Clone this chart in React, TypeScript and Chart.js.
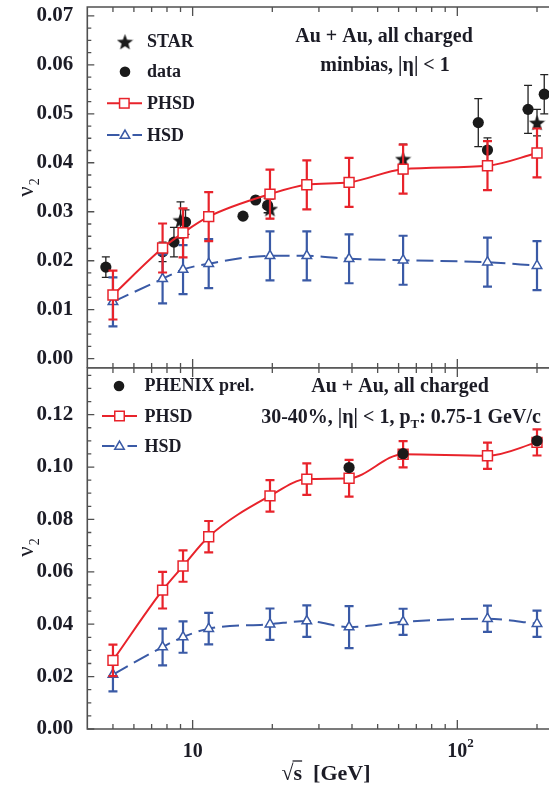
import React, { useEffect, useRef } from 'react';
import { Chart, registerables } from 'chart.js';

Chart.register(...registerables);

// ---------- colours / fonts ----------
const RED = '#e8232b';
const BLUE = '#3a5aa6';
const BLACK = '#1a1a1a';
const AXIS = '#505050';
const TEXT = '#1c1c26';
const SERIF = '"Liberation Serif", "DejaVu Serif", serif';

// ---------- data ----------
const modelEnergy = [5, 7.7, 9.2, 11.5, 19.6, 27, 39, 62.4, 130, 200];

// top panel (minbias)
const phsdMinbias = [0.013, 0.0226, 0.0257, 0.029, 0.0336, 0.0355, 0.036, 0.0387, 0.0394, 0.042];
const phsdMinbiasErr = [0.005, 0.005, 0.005, 0.005, 0.005, 0.005, 0.005, 0.005, 0.005, 0.005];
const hsdMinbias = [0.0116, 0.0163, 0.0182, 0.0194, 0.021, 0.021, 0.0204, 0.0201, 0.0197, 0.019];
const hsdMinbiasErr = [0.005, 0.005, 0.005, 0.005, 0.005, 0.005, 0.005, 0.005, 0.005, 0.005];

const starEnergy = [9.0, 19.6, 62.4, 200];
const starV2 = [0.0283, 0.0306, 0.0408, 0.0482];
const starErr = [0.0037, 0.002, 0.003, 0.0027];

const dataEnergy = [4.7, 7.7, 8.5, 9.4, 15.5, 17.3, 19.2, 120, 130, 185, 213];
const dataV2 = [0.0187, 0.0218, 0.0238, 0.0279, 0.0291, 0.0324, 0.0313, 0.0482, 0.0426, 0.0509, 0.054];
const dataErr = [0.0021, 0.002, 0.003, 0.0025, 0, 0, 0.0015, 0.0049, 0.0025, 0.0049, 0.004];

// bottom panel (30-40%)
const phsdCentral = [0.0262, 0.053, 0.0622, 0.0734, 0.089, 0.0954, 0.0957, 0.1049, 0.1043, 0.1094];
const phsdCentralErr = [0.006, 0.007, 0.006, 0.006, 0.006, 0.006, 0.007, 0.005, 0.005, 0.005];
const hsdCentral = [0.0208, 0.0313, 0.0351, 0.0383, 0.04, 0.0412, 0.0389, 0.0409, 0.0421, 0.0402];
const hsdCentralErr = [0.0064, 0.007, 0.006, 0.006, 0.006, 0.006, 0.008, 0.005, 0.005, 0.005];

const phenixEnergy = [39, 62.4, 200];
const phenixV2 = [0.0998, 0.1051, 0.11];

// ---------- axes ----------
const xMin = 4;
const xMax = 222;
const xMajorTicks = [10, 100];
const xMinorTicks = [5, 6, 7, 8, 9, 20, 30, 40, 50, 60, 70, 80, 90, 200];
const xTickLabels = ['10', '10'];
const xTickSup = ['', '2'];

const yTopMin = -0.0019;
const yTopMax = 0.0718;
const yTopTicks = [0, 0.01, 0.02, 0.03, 0.04, 0.05, 0.06, 0.07];
const yTopMinorStep = 0.0025;

const yBotMin = 0;
const yBotMax = 0.1378;
const yBotTicks = [0, 0.02, 0.04, 0.06, 0.08, 0.1, 0.12];
const yBotMinorStep = 0.005;

const pts = (xs: number[], ys: number[]) => xs.map((x, i) => ({ x, y: ys[i] }));

// ---------- drawing helpers ----------
function starPath(ctx: CanvasRenderingContext2D, cx: number, cy: number, R: number) {
  const r = R * 0.42;
  ctx.beginPath();
  for (let k = 0; k < 10; k++) {
    const ang = -Math.PI / 2 + (k * Math.PI) / 5;
    const rad = k % 2 ? r : R;
    const px = cx + Math.cos(ang) * rad;
    const py = cy + Math.sin(ang) * rad;
    if (k === 0) ctx.moveTo(px, py);
    else ctx.lineTo(px, py);
  }
  ctx.closePath();
}

function makeStarCanvas(size: number, color: string) {
  const c = document.createElement('canvas');
  c.width = size;
  c.height = size;
  const g = c.getContext('2d')!;
  g.fillStyle = color;
  starPath(g, size / 2, size / 2 + size * 0.05, size / 2);
  g.fill();
  return c;
}

function drawSquare(ctx: CanvasRenderingContext2D, x: number, y: number, side: number, color: string) {
  ctx.fillStyle = '#fff';
  ctx.fillRect(x - side / 2, y - side / 2, side, side);
  ctx.strokeStyle = color;
  ctx.lineWidth = 1.5;
  ctx.strokeRect(x - side / 2, y - side / 2, side, side);
}

function drawTriangle(ctx: CanvasRenderingContext2D, x: number, y: number, r: number, color: string) {
  ctx.beginPath();
  for (let k = 0; k < 3; k++) {
    const a = (k * 2 * Math.PI) / 3;
    const px = x + Math.sin(a) * r;
    const py = y - Math.cos(a) * r;
    if (k === 0) ctx.moveTo(px, py);
    else ctx.lineTo(px, py);
  }
  ctx.closePath();
  ctx.fillStyle = '#fff';
  ctx.fill();
  ctx.strokeStyle = color;
  ctx.lineWidth = 1.5;
  ctx.stroke();
}

function drawDot(ctx: CanvasRenderingContext2D, x: number, y: number, r: number) {
  ctx.beginPath();
  ctx.arc(x, y, r, 0, Math.PI * 2);
  ctx.fillStyle = BLACK;
  ctx.fill();
}

function font(size: number, weight = 'bold') {
  return `${weight} ${size}px ${SERIF}`;
}

function drawLegendLine(ctx: CanvasRenderingContext2D, y: number, x0: number, x1: number, color: string, dashed: boolean) {
  ctx.strokeStyle = color;
  ctx.lineWidth = 2;
  ctx.setLineDash([]);
  ctx.beginPath();
  if (dashed) {
    const mid = (x0 + x1) / 2;
    ctx.moveTo(x0, y);
    ctx.lineTo(mid - 5, y);
    ctx.moveTo(mid + 8, y);
    ctx.lineTo(x1, y);
  } else {
    ctx.moveTo(x0, y);
    ctx.lineTo(x1, y);
  }
  ctx.stroke();
}

function drawYTitle(ctx: CanvasRenderingContext2D, x: number, y: number) {
  ctx.save();
  ctx.translate(x, y);
  ctx.rotate(-Math.PI / 2);
  ctx.fillStyle = TEXT;
  ctx.textBaseline = 'middle';
  ctx.textAlign = 'left';
  ctx.font = font(23, 'normal');
  const wNu = ctx.measureText('ν').width;
  ctx.font = font(14, 'normal');
  const wSub = ctx.measureText('2').width;
  const start = -(wNu + wSub) / 2;
  ctx.font = font(23, 'normal');
  ctx.fillText('ν', start, 0);
  ctx.font = font(14, 'normal');
  ctx.fillText('2', start + wNu + 1, 8);
  ctx.restore();
}

// ---------- plugins ----------
const errorBarPlugin = {
  id: 'errorBars',
  beforeDatasetDraw(chart: any, args: any) {
    const ds: any = chart.data.datasets[args.index];
    const errs: number[] | undefined = ds.errors;
    if (!errs) return;
    const meta = args.meta;
    const ys = chart.scales[meta.yAxisID];
    const ctx: CanvasRenderingContext2D = chart.ctx;
    ctx.save();
    ctx.strokeStyle = ds.errorColor;
    ctx.lineWidth = ds.errorWidth;
    ctx.setLineDash([]);
    const cap = ds.capWidth / 2;
    meta.data.forEach((pt: any, i: number) => {
      const e = errs[i];
      if (!e) return;
      const v = ds.data[i].y;
      const top = ys.getPixelForValue(v + e);
      const bot = ys.getPixelForValue(v - e);
      ctx.beginPath();
      ctx.moveTo(pt.x, top);
      ctx.lineTo(pt.x, bot);
      ctx.moveTo(pt.x - cap, top);
      ctx.lineTo(pt.x + cap, top);
      ctx.moveTo(pt.x - cap, bot);
      ctx.lineTo(pt.x + cap, bot);
      ctx.stroke();
    });
    ctx.restore();
  },
};

const framePlugin = {
  id: 'frame',
  afterDraw(chart: any, _args: any, opts: any) {
    const ctx: CanvasRenderingContext2D = chart.ctx;
    const a = chart.chartArea;
    const xs = chart.scales.x;
    const ys = chart.scales.y;
    ctx.save();
    ctx.setLineDash([]);
    ctx.strokeStyle = AXIS;
    ctx.lineWidth = 1.6;
    ctx.beginPath();
    ctx.moveTo(a.right + 2, a.top);
    ctx.lineTo(a.left, a.top);
    ctx.lineTo(a.left, a.bottom);
    ctx.lineTo(a.right + 2, a.bottom);
    ctx.stroke();

    ctx.lineWidth = 1.3;
    ctx.beginPath();
    const xTick = (v: number, len: number) => {
      const px = xs.getPixelForValue(v);
      ctx.moveTo(px, a.bottom);
      ctx.lineTo(px, a.bottom - len);
      ctx.moveTo(px, a.top);
      ctx.lineTo(px, a.top + len);
    };
    xMajorTicks.forEach((v) => xTick(v, 9));
    xMinorTicks.forEach((v) => xTick(v, 5));
    const yMin = ys.min;
    const yMax = ys.max;
    opts.yMajor.forEach((v: number) => {
      const py = ys.getPixelForValue(v);
      ctx.moveTo(a.left, py);
      ctx.lineTo(a.left + 7, py);
    });
    for (let v = 0; v <= yMax + 1e-9; v += opts.yMinorStep) {
      if (v < yMin) continue;
      const py = ys.getPixelForValue(v);
      ctx.moveTo(a.left, py);
      ctx.lineTo(a.left + 4, py);
    }
    ctx.stroke();
    ctx.restore();

    if (opts.draw) opts.draw(ctx, chart);
  },
};

function drawTopDecor(ctx: CanvasRenderingContext2D, star: HTMLCanvasElement) {
  ctx.save();
  ctx.fillStyle = TEXT;
  ctx.textBaseline = 'middle';
  // legend
  ctx.drawImage(star, 125 - star.width / 2, 41.7 - star.height / 2);
  drawDot(ctx, 125, 71.7, 5.3);
  drawLegendLine(ctx, 103.3, 107, 142, RED, false);
  drawSquare(ctx, 124.3, 103.3, 9.5, RED);
  drawLegendLine(ctx, 135, 107, 142, BLUE, true);
  drawTriangle(ctx, 125, 135.5, 5.5, BLUE);
  ctx.fillStyle = TEXT;
  ctx.font = font(18);
  ctx.textAlign = 'left';
  ctx.fillText('STAR', 147, 42);
  ctx.fillText('data', 147, 72);
  ctx.fillText('PHSD', 147, 104);
  ctx.fillText('HSD', 147, 136);
  // annotation
  ctx.font = font(20);
  ctx.textAlign = 'center';
  ctx.fillText('Au + Au, all charged', 384, 37);
  ctx.fillText('minbias, |η| < 1', 385, 66);
  drawYTitle(ctx, 27, 188);
  ctx.restore();
}

function drawBottomDecor(ctx: CanvasRenderingContext2D, chart: any) {
  const off = 367;
  ctx.save();
  ctx.textBaseline = 'middle';
  // legend
  drawDot(ctx, 119, 386 - off, 5.3);
  drawLegendLine(ctx, 416 - off, 102, 137, RED, false);
  drawSquare(ctx, 119.5, 416 - off, 9.5, RED);
  drawLegendLine(ctx, 446 - off, 102, 137, BLUE, true);
  drawTriangle(ctx, 119.5, 446.5 - off, 5.5, BLUE);
  ctx.fillStyle = TEXT;
  ctx.font = font(18);
  ctx.textAlign = 'left';
  ctx.fillText('PHENIX prel.', 144.6, 386 - off);
  ctx.fillText('PHSD', 144.6, 417 - off);
  ctx.fillText('HSD', 144.6, 447 - off);
  // annotation
  ctx.font = font(20);
  ctx.textAlign = 'center';
  ctx.fillText('Au + Au, all charged', 400, 387 - off);
  const p1 = '30-40%, |η| < 1, p';
  const p2 = ': 0.75-1 GeV/c';
  ctx.font = font(20);
  const w1 = ctx.measureText(p1).width;
  const w2 = ctx.measureText(p2).width;
  ctx.font = font(13);
  const ws = ctx.measureText('T').width;
  let sx = 401 - (w1 + ws + w2) / 2;
  const ty = 418 - off;
  ctx.textAlign = 'left';
  ctx.font = font(20);
  ctx.fillText(p1, sx, ty);
  sx += w1;
  ctx.font = font(13);
  ctx.fillText('T', sx, ty + 7);
  sx += ws;
  ctx.font = font(20);
  ctx.fillText(p2, sx, ty);

  // x tick labels
  const xs = chart.scales.x;
  const ly = 752 - off;
  xMajorTicks.forEach((v, i) => {
    const px = xs.getPixelForValue(v);
    ctx.font = font(20);
    ctx.textAlign = 'center';
    ctx.fillText(xTickLabels[i], px, ly);
    if (xTickSup[i]) {
      const w = ctx.measureText(xTickLabels[i]).width;
      ctx.font = font(13);
      ctx.textAlign = 'left';
      ctx.fillText(xTickSup[i], px + w / 2, ly - 8);
    }
  });

  // x title  √s  [GeV]
  ctx.font = font(22);
  ctx.textBaseline = 'alphabetic';
  const wr = ctx.measureText('√').width;
  const wsx = ctx.measureText('s').width;
  const wg = ctx.measureText('  [GeV]').width;
  let tx = 326 - (wr + wsx + wg) / 2;
  const by = 780 - off;
  ctx.textAlign = 'left';
  ctx.fillText('√', tx, by);
  ctx.strokeStyle = TEXT;
  ctx.lineWidth = 1.3;
  ctx.beginPath();
  ctx.moveTo(tx + wr - 1, by - 19);
  ctx.lineTo(tx + wr + wsx, by - 19);
  ctx.stroke();
  tx += wr;
  ctx.fillText('s', tx, by);
  tx += wsx;
  ctx.fillText('  [GeV]', tx, by);

  drawYTitle(ctx, 27, 548 - off);
  ctx.restore();
}

function yScale(min: number, max: number, ticks: number[]) {
  return {
    type: 'linear' as const,
    min,
    max,
    grid: { display: false },
    border: { display: false },
    afterBuildTicks: (s: any) => {
      s.ticks = ticks.map((v) => ({ value: v }));
    },
    afterFit: (s: any) => {
      s.width = 87.3;
      s.paddingTop = 0;
      s.paddingBottom = 0;
      s.paddingLeft = 0;
      s.paddingRight = 0;
    },
    ticks: {
      autoSkip: false,
      padding: 6,
      color: TEXT,
      font: { family: SERIF, weight: 'bold' as const, size: 21 },
      callback: (v: any) => Number(v).toFixed(2),
    },
  };
}

const xScale = {
  type: 'logarithmic' as const,
  min: xMin,
  max: xMax,
  display: false,
};

function modelDataset(label: string, xs: number[], ys: number[], errs: number[], color: string, dashed: boolean) {
  return {
    label,
    data: pts(xs, ys),
    errors: errs,
    errorColor: color,
    errorWidth: 2.2,
    capWidth: 9,
    borderColor: color,
    borderWidth: 2,
    borderDash: dashed ? [17, 7] : [],
    cubicInterpolationMode: 'monotone',
    pointStyle: dashed ? 'triangle' : 'rect',
    pointRadius: dashed ? 5.5 : 7,
    pointBackgroundColor: '#fff',
    pointBorderColor: color,
    pointBorderWidth: 1.5,
    fill: false,
  };
}

export default function App() {
  const topRef = useRef<HTMLCanvasElement>(null);
  const botRef = useRef<HTMLCanvasElement>(null);

  useEffect(() => {
    const star = makeStarCanvas(17, BLACK);
    const common = {
      responsive: false,
      animation: false as const,
      devicePixelRatio: 1,
      events: [],
    };

    const top = new Chart(topRef.current!, {
      type: 'line',
      data: {
        datasets: [
          modelDataset('PHSD', modelEnergy, phsdMinbias, phsdMinbiasErr, RED, false),
          modelDataset('HSD', modelEnergy, hsdMinbias, hsdMinbiasErr, BLUE, true),
          {
            label: 'STAR',
            data: pts(starEnergy, starV2),
            errors: starErr,
            errorColor: '#222',
            errorWidth: 1.3,
            capWidth: 8,
            showLine: false,
            pointStyle: star,
            pointRadius: 8,
          },
          {
            label: 'data',
            data: pts(dataEnergy, dataV2),
            errors: dataErr,
            errorColor: '#222',
            errorWidth: 1.3,
            capWidth: 8,
            showLine: false,
            pointStyle: 'circle',
            pointRadius: 5.6,
            pointBackgroundColor: BLACK,
            pointBorderColor: BLACK,
            pointBorderWidth: 0,
          },
        ] as any,
      },
      options: {
        ...common,
        layout: { autoPadding: false, padding: { top: 7, left: 0, right: 0, bottom: 0 } },
        scales: { x: xScale, y: yScale(yTopMin, yTopMax, yTopTicks) } as any,
        plugins: {
          legend: { display: false },
          tooltip: { enabled: false },
          frame: {
            yMajor: yTopTicks,
            yMinorStep: yTopMinorStep,
            draw: (ctx: CanvasRenderingContext2D) => drawTopDecor(ctx, star),
          },
        } as any,
      },
      plugins: [errorBarPlugin, framePlugin],
    });

    const bottom = new Chart(botRef.current!, {
      type: 'line',
      data: {
        datasets: [
          {
            label: 'PHENIX prel.',
            data: pts(phenixEnergy, phenixV2),
            showLine: false,
            pointStyle: 'circle',
            pointRadius: 5.6,
            pointBackgroundColor: BLACK,
            pointBorderColor: BLACK,
            pointBorderWidth: 0,
          },
          modelDataset('PHSD', modelEnergy, phsdCentral, phsdCentralErr, RED, false),
          modelDataset('HSD', modelEnergy, hsdCentral, hsdCentralErr, BLUE, true),
        ] as any,
      },
      options: {
        ...common,
        layout: { autoPadding: false, padding: { top: 1, left: 0, right: 0, bottom: 58 } },
        scales: { x: xScale, y: yScale(yBotMin, yBotMax, yBotTicks) } as any,
        plugins: {
          legend: { display: false },
          tooltip: { enabled: false },
          frame: {
            yMajor: yBotTicks,
            yMinorStep: yBotMinorStep,
            draw: (ctx: CanvasRenderingContext2D, chart: any) => drawBottomDecor(ctx, chart),
          },
        } as any,
      },
      plugins: [errorBarPlugin, framePlugin],
    });

    return () => {
      top.destroy();
      bottom.destroy();
    };
  }, []);

  return (
    <div style={{ position: 'absolute', left: 0, top: 0, width: 549, height: 787, background: '#fff', overflow: 'hidden' }}>
      <canvas ref={topRef} width={549} height={368} style={{ position: 'absolute', left: 0, top: 0, width: 549, height: 368 }} />
      <canvas ref={botRef} width={549} height={420} style={{ position: 'absolute', left: 0, top: 367, width: 549, height: 420 }} />
    </div>
  );
}
